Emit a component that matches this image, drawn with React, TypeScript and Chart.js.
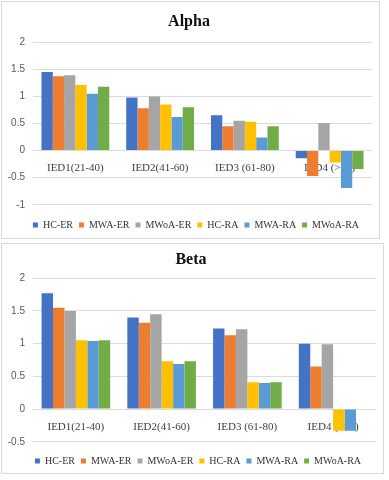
import React, { useEffect, useRef } from "react";
import { Chart, registerables } from "chart.js";

Chart.register(...registerables);

const categories = ["IED1(21-40)", "IED2(41-60)", "IED3 (61-80)", "IED4 (>80)"];
const seriesNames = ["HC-ER", "MWA-ER", "MWoA-ER", "HC-RA", "MWA-RA", "MWoA-RA"];
const seriesColors = ["#4472C4", "#ED7D31", "#A5A5A5", "#FFC000", "#5B9BD5", "#70AD47"];

// Alpha values per series (across categories)
const alphaHCER = [1.45, 0.98, 0.65, -0.14];
const alphaMWAER = [1.37, 0.78, 0.45, -0.47];
const alphaMWoAER = [1.39, 1.0, 0.55, 0.51];
const alphaHCRA = [1.21, 0.85, 0.53, -0.22];
const alphaMWARA = [1.05, 0.62, 0.24, -0.69];
const alphaMWoARA = [1.18, 0.8, 0.45, -0.34];

// Beta values per series
const betaHCER = [1.77, 1.4, 1.23, 1.0];
const betaMWAER = [1.55, 1.32, 1.13, 0.65];
const betaMWoAER = [1.5, 1.45, 1.22, 0.99];
const betaHCRA = [1.05, 0.73, 0.41, -0.33];
const betaMWARA = [1.04, 0.69, 0.4, -0.33];
const betaMWoARA = [1.05, 0.73, 0.41, null];

const alphaTicks = { min: -1, max: 2, step: 0.5 };
const betaTicks = { min: -0.5, max: 2, step: 0.5 };

type PanelProps = {
  title: string;
  series: (number | null)[][];
  yMin: number;
  yMax: number;
  step: number;
  width: number;
  height: number;
  top: number;
  left: number;
  titlePadTop: number;
  titlePadBottom: number;
  legendGap: number;
  legendTrim: number;
  legendShift: number;
};

function BarPanel(props: PanelProps) {
  const ref = useRef<HTMLCanvasElement | null>(null);
  useEffect(() => {
    if (!ref.current) return;
    const legendTweak = {
      id: "legendTweak",
      beforeUpdate(chart: any) {
        const lg = chart.legend;
        if (lg && !lg.__trimmed) {
          const orig = lg.fit.bind(lg);
          lg.fit = function () {
            orig();
            this.height = this.height - props.legendTrim;
          };
          lg.__trimmed = true;
        }
      },
      afterLayout(chart: any) {
        const lg = chart.legend;
        if (lg) {
          lg.left += props.legendShift;
          lg.right += props.legendShift;
        }
      },
    };
    const chart = new Chart(ref.current, {
      type: "bar",
      data: {
        labels: categories,
        datasets: seriesNames.map((name, i) => ({
          label: name,
          data: props.series[i],
          backgroundColor: seriesColors[i],
          borderWidth: 0,
          barPercentage: 1.0,
          categoryPercentage: 0.8,
        })),
      },
      plugins: [legendTweak],
      options: {
        responsive: false,
        animation: false,
        layout: { padding: { left: 4, right: 7, top: 2, bottom: 0 } },
        plugins: {
          title: {
            display: true,
            text: props.title,
            color: "#111111",
            font: { family: "Liberation Serif", size: 16, weight: "bold" },
            padding: { top: props.titlePadTop, bottom: props.titlePadBottom },
          },
          legend: {
            position: "bottom",
            title: {
              display: true,
              text: " ",
              font: { size: 1 },
              padding: { top: props.legendGap, bottom: 0 },
            },
            labels: {
              boxWidth: 5,
              boxHeight: 5,
              padding: 6,
              color: "#333333",
              font: { family: "Liberation Serif", size: 10 },
            },
          },
          tooltip: { enabled: false },
        },
        scales: {
          x: {
            position: { y: 0 } as any,
            z: 1,
            grid: { display: false },
            border: { display: false },
            ticks: {
              color: "#404040",
              padding: 3,
              font: { family: "Liberation Serif", size: 11 },
            },
          },
          y: {
            min: props.yMin,
            max: props.yMax,
            border: { display: false },
            grid: { color: "#dcdcdc", drawTicks: false },
            afterFit: (scale: any) => {
              scale.width = 27;
            },
            ticks: {
              stepSize: props.step,
              padding: 8,
              color: "#595959",
              font: { family: "Liberation Sans", size: 10 },
              callback: (v: any) => String(Math.round(Number(v) * 10) / 10),
            },
          },
        },
      },
    });
    return () => chart.destroy();
  }, []);
  return (
    <div
      style={{
        position: "absolute",
        top: props.top,
        left: props.left,
        width: props.width,
        height: props.height,
        border: "1px solid #d9d9d9",
        background: "#fff",
      }}
    >
      <canvas ref={ref} width={props.width} height={props.height} style={{ display: "block" }} />
    </div>
  );
}

export default function App() {
  return (
    <div style={{ position: "absolute", top: 0, left: 0, width: 389, height: 480, background: "#fff" }}>
      <BarPanel
        title="Alpha"
        series={[alphaHCER, alphaMWAER, alphaMWoAER, alphaHCRA, alphaMWARA, alphaMWoARA]}
        yMin={alphaTicks.min}
        yMax={alphaTicks.max}
        step={alphaTicks.step}
        top={1}
        left={1}
        width={377}
        height={236}
        titlePadTop={8}
        titlePadBottom={11}
        legendGap={8}
        legendTrim={2}
        legendShift={7}
      />
      <BarPanel
        title="Beta"
        series={[betaHCER, betaMWAER, betaMWoAER, betaHCRA, betaMWARA, betaMWoARA]}
        yMin={betaTicks.min}
        yMax={betaTicks.max}
        step={betaTicks.step}
        top={243}
        left={1}
        width={381}
        height={229}
        titlePadTop={4}
        titlePadBottom={9}
        legendGap={7}
        legendTrim={3}
        legendShift={7}
      />
    </div>
  );
}
